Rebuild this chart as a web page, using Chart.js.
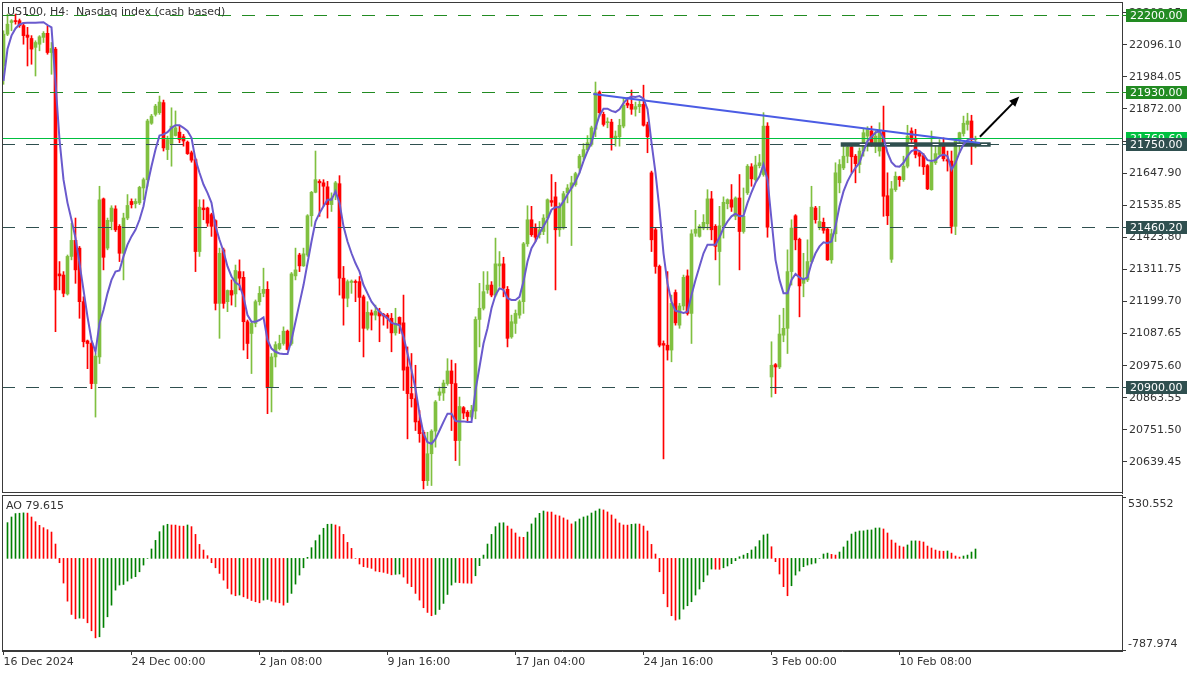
<!DOCTYPE html>
<html>
<head>
<meta charset="utf-8">
<title>US100, H4</title>
<script src="https://cdn.jsdelivr.net/npm/chart.js@4.4.1/dist/chart.umd.min.js"></script>
<style>
  html, body { margin: 0; padding: 0; background: #fff; }
  #wrap { position: relative; width: 1200px; height: 675px; overflow: hidden; background: #fff; }
  #priceCanvas { position: absolute; left: 0; top: 0; }
  #aoCanvas { position: absolute; left: 0; top: 495px; }
</style>
</head>
<body>
<div id="wrap">
  <canvas id="priceCanvas" width="1200" height="495"></canvas>
  <canvas id="aoCanvas" width="1200" height="180"></canvas>
</div>
<script>
// H4 candles, one per bar index (0 = 16 Dec 2024)
const openPrices = [
  22022,22133,22174,22179,22180,22163,22130,22118,22087,22098,
  22122,22136,22069,22081,21296,21292,21226,21357,21413,21386,
  21199,21062,21053,20913,21006,21558,21386,21479,21523,21462,
  21368,21491,21549,21541,21544,21596,21625,21822,21853,21859,
  21894,21730,21751,21779,21791,21775,21756,21719,21695,21374,
  21526,21526,21503,21482,21193,21380,21199,21238,21226,21304,
  21284,21129,21088,21123,21199,21228,21242,20899,21006,21035,
  21053,21096,21053,21289,21362,21324,21362,21499,21581,21619,
  21614,21600,21538,21579,21611,21281,21211,21266,21269,21269,
  21216,21106,21160,21152,21164,21155,21152,21141,21090,21144,
  21125,20971,20878,20860,20782,20743,20574,20668,20747,20872,
  20880,20913,20957,20913,20714,20829,20813,20796,20817,21137,
  21176,21240,21257,21222,21324,21331,21242,21076,21123,21152,
  21199,21401,21485,21456,21433,21444,21491,21552,21565,21450,
  21456,21579,21596,21608,21666,21705,21730,21748,21801,21931,
  21853,21824,21826,21771,21775,21812,21892,21888,21871,21880,
  21888,21817,21649,21450,21322,21053,21047,21030,21231,21117,
  21184,21289,21158,21438,21427,21456,21471,21558,21462,21374,
  21462,21541,21555,21497,21561,21444,21579,21670,21625,21674,
  21643,21812,20936,20979,20971,21082,21106,21304,21499,21417,
  21263,21275,21339,21526,21458,21476,21452,21345,21436,21614,
  21666,21707,21740,21707,21678,21725,21777,21795,21742,21725,
  21795,21569,21347,21590,21635,21625,21672,21795,21765,21719,
  21709,21674,21590,21684,21713,21742,21695,21690,21462,21760,
  21786,21818,21830,21765
];
const highPrices = [
  22145,22203,22184,22203,22186,22174,22157,22128,22110,22128,
  22142,22163,22104,22087,21339,21304,21362,21473,21491,21392,
  21216,21065,21059,21018,21602,21561,21491,21534,21534,21468,
  21508,21573,21558,21558,21602,21631,21836,21853,21888,21917,
  21903,21777,21876,21865,21812,21783,21760,21725,21700,21555,
  21555,21529,21508,21485,21386,21386,21240,21275,21327,21345,
  21304,21135,21129,21205,21252,21316,21269,21018,21059,21082,
  21111,21100,21301,21386,21368,21386,21503,21584,21725,21625,
  21625,21619,21579,21619,21639,21322,21275,21275,21275,21287,
  21222,21199,21170,21187,21176,21158,21158,21158,21176,21146,
  21222,21041,21018,20977,20819,20749,20743,20752,20854,20901,
  20925,21000,20995,20983,20866,20833,20819,20837,21146,21263,
  21304,21304,21269,21421,21374,21354,21252,21152,21170,21205,
  21406,21534,21532,21471,21479,21503,21558,21643,21616,21544,
  21584,21608,21637,21651,21713,21751,21779,21812,21966,21935,
  21861,21841,21836,21795,21836,21911,21911,21938,21896,21900,
  21955,21826,21655,21455,21327,21062,21304,21222,21240,21193,
  21292,21310,21450,21518,21468,21503,21590,21584,21468,21532,
  21565,21558,21608,21565,21643,21596,21678,21681,21707,21713,
  21859,21824,21059,20983,21152,21176,21380,21485,21503,21421,
  21368,21415,21602,21532,21532,21491,21456,21452,21684,21695,
  21742,21742,21745,21713,21736,21801,21810,21812,21795,21824,
  21882,21649,21619,21652,21637,21707,21815,21806,21801,21725,
  21716,21678,21795,21748,21765,21771,21725,21725,21765,21791,
  21847,21857,21850,21777
];
const lowPrices = [
  21958,22128,22145,22168,22157,22098,22022,22028,21987,22075,
  22104,22063,21993,21094,21240,21216,21222,21345,21263,21141,
  21041,20965,20895,20796,20983,21310,21380,21450,21444,21339,
  21275,21485,21526,21526,21538,21555,21602,21818,21847,21853,
  21725,21695,21672,21777,21754,21742,21713,21686,21304,21357,
  21485,21462,21427,21170,21071,21176,21164,21187,21181,21240,
  21030,21000,20948,21111,21187,21216,20808,20814,20971,21030,
  21047,21030,21047,21275,21304,21322,21357,21462,21579,21497,
  21532,21491,21514,21555,21222,21117,21181,21228,21199,21059,
  21006,21100,21100,21135,21059,21117,21106,21024,21082,21088,
  20889,20720,20831,20749,20708,20545,20557,20557,20691,20854,
  20854,20907,20749,20644,20627,20790,20782,20790,20790,21041,
  21170,21228,21216,21216,21252,21216,21041,21071,21088,21141,
  21158,21392,21427,21409,21421,21433,21403,21532,21240,21427,
  21452,21544,21395,21602,21649,21695,21725,21742,21775,21847,
  21812,21806,21728,21742,21742,21806,21876,21853,21847,21859,
  21812,21719,21374,21298,21041,20650,20995,20989,21117,21106,
  21170,21152,21053,21427,21424,21450,21450,21415,21345,21257,
  21421,21523,21514,21485,21310,21438,21573,21602,21619,21666,
  21637,21424,20866,20878,20965,21059,21018,21257,21380,21146,
  21216,21269,21333,21473,21450,21438,21343,21333,21409,21579,
  21660,21684,21649,21614,21649,21707,21725,21742,21719,21707,
  21497,21468,21336,21584,21602,21619,21666,21742,21701,21672,
  21643,21590,21588,21678,21707,21690,21655,21438,21433,21719,
  21777,21798,21678,21736
];
const closePrices = [
  22133,22168,22180,22177,22163,22128,22122,22081,22104,22124,
  22136,22069,22083,21240,21289,21228,21357,21413,21310,21199,
  21059,21053,20913,21009,21555,21354,21483,21526,21450,21368,
  21491,21535,21538,21549,21598,21625,21830,21847,21882,21896,
  21736,21765,21812,21806,21765,21760,21716,21693,21374,21529,
  21520,21473,21462,21193,21368,21193,21238,21222,21308,21281,
  21129,21053,21123,21199,21228,21242,20899,21006,21049,21053,
  21096,21032,21296,21310,21324,21366,21499,21581,21625,21614,
  21602,21538,21561,21614,21281,21211,21269,21271,21266,21214,
  21106,21162,21152,21166,21149,21149,21141,21090,21123,21117,
  20960,20878,20860,20779,20738,20574,20668,20747,20849,20884,
  20915,20957,20913,20714,20833,20810,20798,20819,21137,21176,
  21234,21257,21222,21331,21331,21246,21071,21129,21158,21199,
  21401,21485,21433,21424,21450,21491,21555,21546,21450,21532,
  21576,21596,21614,21646,21707,21730,21754,21806,21929,21859,
  21818,21827,21768,21777,21815,21885,21885,21871,21880,21888,
  21815,21775,21415,21322,21047,21047,21030,21193,21125,21184,
  21284,21158,21436,21452,21462,21476,21558,21450,21392,21464,
  21546,21555,21529,21561,21444,21497,21672,21628,21676,21684,
  21812,21459,20977,20971,21086,21106,21304,21456,21415,21254,
  21281,21339,21529,21485,21479,21448,21345,21436,21649,21678,
  21707,21739,21705,21681,21725,21789,21803,21754,21777,21789,
  21567,21499,21593,21637,21625,21672,21777,21765,21713,21707,
  21670,21593,21686,21716,21742,21698,21690,21462,21760,21789,
  21822,21830,21765,21769.6
];
// moving average drawn on the candles
const maValues = [
  21970,22081,22128,22153,22167,22172,22173,22173,22173,22174,
  22175,22165,22157,21964,21765,21625,21544,21485,21421,21333,
  21240,21146,21065,21024,21123,21170,21228,21275,21304,21308,
  21357,21398,21427,21450,21485,21532,21608,21672,21730,21779,
  21783,21791,21806,21815,21815,21806,21795,21771,21695,21649,
  21608,21579,21544,21462,21415,21374,21322,21287,21266,21257,
  21216,21152,21129,21129,21135,21144,21065,21035,21024,21018,
  21016,21016,21065,21129,21193,21257,21333,21409,21479,21508,
  21532,21555,21555,21584,21544,21462,21409,21368,21333,21304,
  21257,21228,21199,21181,21164,21152,21141,21125,21121,21117,
  21076,21018,20960,20895,20808,20738,20708,20703,20720,20749,
  20779,20808,20808,20782,20781,20781,20779,20779,20889,20971,
  21053,21106,21176,21222,21246,21240,21211,21205,21205,21216,
  21269,21339,21386,21409,21438,21462,21487,21520,21529,21529,
  21549,21573,21596,21619,21649,21690,21725,21754,21806,21850,
  21873,21873,21865,21861,21871,21892,21908,21915,21914,21917,
  21908,21871,21754,21649,21520,21368,21263,21199,21167,21164,
  21160,21164,21222,21275,21322,21368,21398,21398,21398,21424,
  21456,21479,21497,21506,21497,21499,21544,21581,21614,21637,
  21678,21625,21485,21345,21275,21228,21228,21275,21296,21284,
  21277,21284,21333,21368,21392,21406,21403,21409,21462,21532,
  21584,21619,21646,21666,21684,21725,21760,21775,21789,21795,
  21771,21719,21686,21672,21670,21684,21707,21725,21730,21725,
  21713,21693,21690,21693,21707,21713,21707,21660,21684,21719,
  21748,21763,21768,21765
];
// Awesome Oscillator histogram
const aoValues = [
  null,304,352,381,384,387,385,352,312,281,
  261,244,224,122,-37,-210,-364,-477,-514,-508,
  -511,-548,-616,-676,-667,-588,-497,-398,-270,-227,
  -222,-193,-170,-156,-114,-57,0,80,153,227,
  278,290,284,283,275,274,284,270,204,119,
  71,23,-37,-80,-128,-185,-256,-304,-318,-312,
  -327,-341,-358,-369,-378,-355,-349,-364,-372,-378,
  -398,-375,-298,-219,-142,-80,9,91,151,199,
  256,290,291,284,270,204,136,85,0,-48,
  -71,-77,-85,-108,-114,-119,-128,-140,-136,-133,
  -159,-213,-241,-298,-355,-420,-460,-488,-477,-435,
  -383,-307,-227,-204,-207,-210,-211,-212,-148,-62,
  28,122,204,270,301,303,275,250,216,182,
  179,224,293,344,383,403,395,394,369,361,
  344,327,293,312,335,352,361,386,403,420,
  412,395,369,335,301,284,283,290,293,292,
  275,233,119,37,-114,-301,-412,-488,-525,-517,
  -432,-403,-369,-312,-261,-199,-142,-91,-92,-93,
  -80,-65,-45,-20,14,28,43,71,99,151,
  199,207,99,-28,-133,-241,-318,-233,-142,-108,
  -71,-57,-48,-40,0,37,45,34,28,54,
  97,148,207,224,233,234,241,242,258,259,
  250,216,156,131,105,97,114,148,149,147,
  139,105,88,71,62,61,63,45,20,11,
  20,28,54,79.615
];

const priceTicks = [22208.15,22096.10,21984.05,21872.00,21759.95,21647.90,21535.85,
  21423.80,21311.75,21199.70,21087.65,20975.60,20863.55,20751.50,20639.45];
const timeTickIndex = [0, 32, 64, 96, 128, 160, 192, 224];
const timeTickLabels = ['16 Dec 2024', '24 Dec 00:00', '2 Jan 08:00', '9 Jan 16:00',
  '17 Jan 04:00', '24 Jan 16:00', '3 Feb 00:00', '10 Feb 08:00'];

const greenLevels = [22200, 21930];
const slateLevels = [21750, 21460.2, 20900];
const lastPrice = 21769.6;
const trendX = [147.45, 244.1];
const trendY = [21924, 21753];
const zoneX = [209.3, 246.8];
const zoneY = [21740, 21755.5];
const arrowX = [244.1, 253.95];
const arrowY = [21775, 21915];
const aoRange = [-787.974, 530.552];

const X_MIN = -0.375, X_MAX = 279.625;
const UP = '#80c040', DOWN = '#ff0000';
const AXIS = '#3a3a3a';
const TXT = '#333333';
const FONT = '11px "DejaVu Sans", sans-serif';

const idx = openPrices.map((_, i) => i);
const candleColor = ctx => closePrices[ctx.dataIndex] >= openPrices[ctx.dataIndex] ? UP : DOWN;

function labelBox(ctx, y, text, bg) {
  const yy = Math.round(y);
  ctx.fillStyle = bg;
  ctx.fillRect(1126, yy - 6, 61, 13);
  ctx.fillStyle = '#ffffff';
  ctx.font = FONT;
  ctx.textAlign = 'left';
  ctx.textBaseline = 'middle';
  ctx.fillText(text, 1130, yy + 1);
}

const priceOverlay = {
  id: 'priceOverlay',
  afterDatasetDraw(chart, args) {
    if (args.index !== 1) return;
    const ctx = chart.ctx, a = chart.chartArea;
    const xs = chart.scales.x, ys = chart.scales.y;
    ctx.save();
    ctx.beginPath();
    ctx.rect(a.left, a.top, a.right - a.left, a.bottom - a.top);
    ctx.clip();
    ctx.lineWidth = 1;
    ctx.setLineDash([13, 11]);
    const dashed = (v, c) => {
      const y = Math.round(ys.getPixelForValue(v)) + 0.5;
      ctx.strokeStyle = c;
      ctx.beginPath();
      ctx.moveTo(a.left, y);
      ctx.lineTo(a.right, y);
      ctx.stroke();
    };
    greenLevels.forEach(v => dashed(v, '#228b22'));
    slateLevels.forEach(v => dashed(v, '#2f4f4f'));
    ctx.setLineDash([]);
    const yl = Math.round(ys.getPixelForValue(lastPrice)) + 0.5;
    ctx.strokeStyle = '#00c040';
    ctx.beginPath();
    ctx.moveTo(a.left, yl);
    ctx.lineTo(a.right, yl);
    ctx.stroke();
    // zone rectangle
    const x0 = xs.getPixelForValue(zoneX[0]), x1 = xs.getPixelForValue(zoneX[1]);
    const y0 = ys.getPixelForValue(zoneY[1]), y1 = ys.getPixelForValue(zoneY[0]);
    ctx.fillStyle = '#2f4f4f';
    ctx.fillRect(x0, y0, x1 - x0, y1 - y0);
    const ym = Math.round(ys.getPixelForValue(slateLevels[0])) + 0.5;
    ctx.strokeStyle = '#ffffff';
    ctx.setLineDash([6, 18.3]);
    ctx.beginPath();
    ctx.moveTo(x0 + 19, ym);
    ctx.lineTo(x1 - 3, ym);
    ctx.stroke();
    ctx.restore();
  },
  afterDatasetsDraw(chart) {
    const ctx = chart.ctx;
    const xs = chart.scales.x, ys = chart.scales.y;
    const px0 = xs.getPixelForValue(arrowX[0]), py0 = ys.getPixelForValue(arrowY[0]);
    const px1 = xs.getPixelForValue(arrowX[1]), py1 = ys.getPixelForValue(arrowY[1]);
    const ang = Math.atan2(py1 - py0, px1 - px0);
    ctx.save();
    ctx.strokeStyle = '#000';
    ctx.fillStyle = '#000';
    ctx.lineWidth = 2;
    ctx.beginPath();
    ctx.moveTo(px0, py0);
    ctx.lineTo(px1 - 6 * Math.cos(ang), py1 - 6 * Math.sin(ang));
    ctx.stroke();
    ctx.beginPath();
    ctx.moveTo(px1, py1);
    ctx.lineTo(px1 - 11 * Math.cos(ang - 0.4), py1 - 11 * Math.sin(ang - 0.4));
    ctx.lineTo(px1 - 11 * Math.cos(ang + 0.4), py1 - 11 * Math.sin(ang + 0.4));
    ctx.closePath();
    ctx.fill();
    ctx.restore();
  },
  afterDraw(chart) {
    const ctx = chart.ctx, a = chart.chartArea, ys = chart.scales.y;
    ctx.save();
    ctx.strokeStyle = AXIS;
    ctx.lineWidth = 1;
    ctx.strokeRect(a.left + 0.5, a.top + 0.5, a.right - a.left, a.bottom - a.top - 1);
    ctx.font = FONT;
    ctx.fillStyle = TXT;
    ctx.textAlign = 'left';
    ctx.textBaseline = 'middle';
    ctx.fillText('US100, H4:  Nasdaq index (cash based)', 7, 12);
    // right-side level labels
    ctx.lineWidth = 1;
    const tickTo = (v, c) => {
      const y = Math.round(ys.getPixelForValue(v)) + 0.5;
      ctx.strokeStyle = c;
      ctx.beginPath();
      ctx.moveTo(a.right, y);
      ctx.lineTo(1126, y);
      ctx.stroke();
    };
    greenLevels.forEach(v => tickTo(v, '#228b22'));
    slateLevels.forEach(v => tickTo(v, '#2f4f4f'));
    labelBox(ctx, ys.getPixelForValue(lastPrice), lastPrice.toFixed(2), '#00c040');
    greenLevels.forEach(v => labelBox(ctx, ys.getPixelForValue(v), v.toFixed(2), '#228b22'));
    slateLevels.forEach(v => labelBox(ctx, ys.getPixelForValue(v), v.toFixed(2), '#2f4f4f'));
    ctx.restore();
  }
};

new Chart(document.getElementById('priceCanvas'), {
  type: 'bar',
  data: {
    datasets: [
      {
        label: 'wicks',
        data: idx.map(i => ({ x: i, y: [lowPrices[i], highPrices[i]] })),
        backgroundColor: candleColor,
        barThickness: 1,
        grouped: false,
        minBarLength: 1,
        order: 4
      },
      {
        label: 'bodies',
        data: idx.map(i => ({ x: i, y: [openPrices[i], closePrices[i]] })),
        backgroundColor: candleColor,
        barThickness: 3,
        grouped: false,
        minBarLength: 1,
        order: 3
      },
      {
        type: 'line',
        label: 'MA',
        data: idx.map(i => ({ x: i, y: maValues[i] })),
        borderColor: '#6a5acd',
        borderWidth: 2,
        pointRadius: 0,
        tension: 0,
        order: 2
      },
      {
        type: 'line',
        label: 'trend',
        data: trendX.map((x, k) => ({ x: x, y: trendY[k] })),
        borderColor: '#4b5ce4',
        borderWidth: 2,
        pointRadius: 0,
        order: 1
      }
    ]
  },
  options: {
    responsive: false,
    animation: false,
    devicePixelRatio: 1,
    events: [],
    layout: { padding: { left: 2, top: 2, bottom: 2, right: 0 } },
    plugins: { legend: { display: false }, tooltip: { enabled: false } },
    scales: {
      x: {
        type: 'linear',
        min: X_MIN,
        max: X_MAX,
        offset: false,
        grid: { offset: false },
        display: false
      },
      y: {
        position: 'right',
        min: 20530.9,
        max: 22245.4,
        afterBuildTicks: s => { s.ticks = priceTicks.map(v => ({ value: v })); },
        afterFit: s => { s.width = 78; s.paddingTop = 0; s.paddingBottom = 0; },
        ticks: {
          autoSkip: false,
          padding: 2,
          color: TXT,
          font: { family: '"DejaVu Sans", sans-serif', size: 11 },
          callback: v => Number(v).toFixed(2)
        },
        grid: { drawOnChartArea: false, drawTicks: true, tickLength: 5, color: AXIS },
        border: { color: AXIS }
      }
    }
  },
  plugins: [priceOverlay]
});

const aoOverlay = {
  id: 'aoOverlay',
  afterDraw(chart) {
    const ctx = chart.ctx, a = chart.chartArea;
    ctx.save();
    ctx.strokeStyle = AXIS;
    ctx.lineWidth = 1;
    ctx.strokeRect(a.left + 0.5, a.top - 0.5, a.right - a.left, a.bottom - a.top);
    ctx.beginPath();
    ctx.moveTo(a.right, a.top + 1.5);
    ctx.lineTo(a.right + 4, a.top + 1.5);
    ctx.moveTo(a.right, a.bottom - 0.5);
    ctx.lineTo(a.right + 4, a.bottom - 0.5);
    ctx.stroke();
    ctx.font = FONT;
    ctx.fillStyle = TXT;
    ctx.textAlign = 'left';
    ctx.textBaseline = 'middle';
    ctx.fillText(aoRange[1].toFixed(3), a.right + 6, a.top + 8);
    ctx.fillText(aoRange[0].toFixed(3), a.right + 6, a.bottom - 7);
    ctx.fillText('AO ' + aoValues[aoValues.length - 1].toFixed(3), 6, a.top + 10);
    ctx.restore();
  }
};

new Chart(document.getElementById('aoCanvas'), {
  type: 'bar',
  data: {
    datasets: [{
      label: 'AO',
      data: idx.map(i => ({ x: i, y: aoValues[i] })),
      backgroundColor: ctx => {
        const i = ctx.dataIndex;
        return i > 0 && aoValues[i] > aoValues[i - 1] ? '#008000' : '#ff0000';
      },
      barThickness: 1,
      grouped: false
    }]
  },
  options: {
    responsive: false,
    animation: false,
    devicePixelRatio: 1,
    events: [],
    layout: { padding: { left: 2, top: 1, bottom: 0, right: 0 } },
    plugins: { legend: { display: false }, tooltip: { enabled: false } },
    scales: {
      x: {
        type: 'linear',
        position: 'bottom',
        min: X_MIN,
        max: X_MAX,
        offset: false,
        afterBuildTicks: s => { s.ticks = timeTickIndex.map(v => ({ value: v })); },
        afterFit: s => { s.height = 24; s.paddingLeft = 0; s.paddingRight = 0; },
        ticks: {
          autoSkip: false,
          maxRotation: 0,
          align: 'start',
          padding: 1,
          color: TXT,
          font: { family: '"DejaVu Sans", sans-serif', size: 11 },
          callback: v => timeTickLabels[timeTickIndex.indexOf(v)]
        },
        grid: { offset: false, drawOnChartArea: false, drawTicks: true, tickLength: 4, color: AXIS },
        border: { color: AXIS }
      },
      y: {
        position: 'right',
        min: aoRange[0],
        max: aoRange[1],
        afterFit: s => { s.width = 78; s.paddingTop = 0; s.paddingBottom = 0; },
        ticks: { display: false },
        grid: { display: false },
        border: { color: AXIS }
      }
    }
  },
  plugins: [aoOverlay]
});
</script>
</body>
</html>
